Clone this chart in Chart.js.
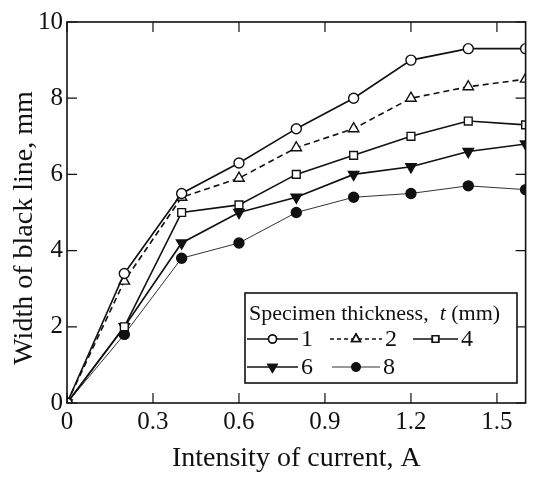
<!DOCTYPE html>
<html>
<head>
<meta charset="utf-8">
<script src="https://cdn.jsdelivr.net/npm/chart.js@4/dist/chart.umd.min.js"></script>
<style>
  html, body { margin: 0; padding: 0; background: #fff; }
  canvas { display: block; }
</style>
</head>
<body>
<canvas id="chart" width="533" height="477"></canvas>
<script>
const current = [0, 0.2, 0.4, 0.6, 0.8, 1.0, 1.2, 1.4, 1.6];
const t1 = [0, 3.4, 5.5, 6.3, 7.2, 8.0, 9.0, 9.3, 9.3];
const t2 = [0, 3.2, 5.4, 5.9, 6.7, 7.2, 8.0, 8.3, 8.5];
const t4 = [0, 2.0, 5.0, 5.2, 6.0, 6.5, 7.0, 7.4, 7.3];
const t6 = [0, 2.0, 4.2, 5.0, 5.4, 6.0, 6.2, 6.6, 6.8];
const t8 = [0, 1.8, 3.8, 4.2, 5.0, 5.4, 5.5, 5.7, 5.6];
const thicknessLabels = ["1", "2", "4", "6", "8"];
const xTicks = [0, 0.3, 0.6, 0.9, 1.2, 1.5];
const yTicks = [0, 2, 4, 6, 8, 10];

const SERIF = "'Liberation Serif', 'DejaVu Serif', serif";
const ink = "#111";

function points(values) {
  return values.map((v, i) => ({ x: current[i], y: v }));
}

const styles = [
  { style: "circle", fill: "#fff", dash: [], width: 1.6, radius: 5, rotation: 0, color: ink },
  { style: "triangle", fill: "#fff", dash: [6, 4], width: 1.6, radius: 6, rotation: 0, color: ink },
  { style: "rect", fill: "#fff", dash: [], width: 1.6, radius: 5.5, rotation: 0, color: ink },
  { style: "triangle", fill: ink, dash: [], width: 1.6, radius: 6, rotation: 180, color: ink },
  { style: "circle", fill: ink, dash: [], width: 1, radius: 5, rotation: 0, color: "#333" },
];

const datasets = [t1, t2, t4, t6, t8].map((values, i) => ({
  label: thicknessLabels[i],
  data: points(values),
  borderColor: styles[i].color,
  borderWidth: styles[i].width,
  borderDash: styles[i].dash,
  pointStyle: styles[i].style,
  pointRotation: styles[i].rotation,
  pointRadius: styles[i].radius,
  pointBackgroundColor: styles[i].fill,
  pointBorderColor: ink,
  pointBorderWidth: 1.4,
  tension: 0,
}));

// inward ticks on all four sides, the frame, and the y title (sits a bit low in the figure)
const frame = {
  id: "frame",
  afterDatasetsDraw(chart) {
    const { ctx, chartArea: a, scales } = chart;
    ctx.save();
    ctx.strokeStyle = ink;
    ctx.lineWidth = 1.6;
    ctx.strokeRect(a.left, a.top, a.right - a.left, a.bottom - a.top);
    ctx.lineWidth = 1.2;
    ctx.beginPath();
    xTicks.forEach((v) => {
      const x = scales.x.getPixelForValue(v);
      ctx.moveTo(x, a.bottom); ctx.lineTo(x, a.bottom - 10);
      ctx.moveTo(x, a.top); ctx.lineTo(x, a.top + 10);
    });
    yTicks.forEach((v) => {
      const y = scales.y.getPixelForValue(v);
      ctx.moveTo(a.left, y); ctx.lineTo(a.left + 10, y);
      ctx.moveTo(a.right, y); ctx.lineTo(a.right - 10, y);
    });
    ctx.stroke();

    ctx.translate(25, 228);
    ctx.rotate(-Math.PI / 2);
    ctx.fillStyle = ink;
    ctx.font = "28px " + SERIF;
    ctx.textAlign = "center";
    ctx.textBaseline = "middle";
    ctx.fillText("Width of black line, mm", 0, 0);
    ctx.restore();
  },
};

// boxed legend inside the plot, two rows like the figure
const boxLegend = {
  id: "boxLegend",
  afterDraw(chart) {
    const { ctx } = chart;
    const box = { x: 245, y: 293, w: 272, h: 90 };
    ctx.save();
    ctx.fillStyle = "#fff";
    ctx.fillRect(box.x, box.y, box.w, box.h);
    ctx.strokeStyle = ink;
    ctx.lineWidth = 1.6;
    ctx.strokeRect(box.x, box.y, box.w, box.h);

    ctx.fillStyle = ink;
    ctx.textBaseline = "middle";
    ctx.font = "22px " + SERIF;
    let tx = box.x + 4;
    const title1 = "Specimen thickness,  ";
    ctx.fillText(title1, tx, 314);
    tx += ctx.measureText(title1).width;
    ctx.font = "italic 22px " + SERIF;
    ctx.fillText("t", tx, 314);
    tx += ctx.measureText("t ").width;
    ctx.font = "22px " + SERIF;
    ctx.fillText("(mm)", tx, 314);

    const slots = [
      { x0: 247, x1: 298, y: 339 },
      { x0: 330, x1: 382, y: 339 },
      { x0: 413, x1: 458, y: 339 },
      { x0: 247, x1: 298, y: 367 },
      { x0: 332, x1: 380, y: 367 },
    ];
    chart.data.datasets.forEach((ds, i) => {
      const s = slots[i];
      ctx.save();
      ctx.strokeStyle = ds.borderColor;
      ctx.lineWidth = ds.borderWidth;
      ctx.setLineDash(ds.borderDash.length ? [4, 3] : []);
      ctx.beginPath();
      ctx.moveTo(s.x0, s.y);
      ctx.lineTo(s.x1, s.y);
      ctx.stroke();
      ctx.restore();
      Chart.helpers.drawPoint(ctx, {
        pointStyle: ds.pointStyle,
        rotation: ds.pointRotation,
        radius: ds.pointRadius - 1,
        borderWidth: 1.3,
      }, (s.x0 + s.x1) / 2, s.y);
      ctx.fillStyle = ds.pointBackgroundColor;
      ctx.strokeStyle = ink;
      ctx.fill();
      ctx.stroke();
      ctx.fillStyle = ink;
      ctx.font = "24px " + SERIF;
      ctx.fillText(ds.label, s.x1 + 3, s.y + 1);
    });
    ctx.restore();
  },
};

new Chart(document.getElementById("chart"), {
  type: "line",
  data: { datasets },
  options: {
    responsive: false,
    animation: false,
    layout: { padding: { top: 22, right: 2, left: 0, bottom: 0 } },
    plugins: { legend: { display: false }, tooltip: { enabled: false } },
    scales: {
      x: {
        type: "linear",
        min: 0,
        max: 1.6,
        afterBuildTicks: (s) => { s.ticks = xTicks.map((v) => ({ value: v })); },
        afterFit: (s) => { s.height = 74; },
        grid: { display: false, drawTicks: false },
        border: { display: false },
        ticks: {
          color: ink,
          padding: 4,
          font: { family: SERIF, size: 25 },
          callback: (v) => (v === 0 ? "0" : v.toFixed(1)),
          maxRotation: 0,
        },
        title: {
          display: true,
          text: "Intensity of current, A",
          color: ink,
          font: { family: SERIF, size: 28 },
          padding: { top: 0, bottom: 2 },
        },
      },
      y: {
        min: 0,
        max: 10,
        afterBuildTicks: (s) => { s.ticks = yTicks.map((v) => ({ value: v })); },
        afterFit: (s) => { s.width = 67; },
        grid: { display: false, drawTicks: false },
        border: { display: false },
        ticks: {
          color: ink,
          padding: 4,
          font: { family: SERIF, size: 25 },
        },
      },
    },
  },
  plugins: [frame, boxLegend],
});
</script>
</body>
</html>
